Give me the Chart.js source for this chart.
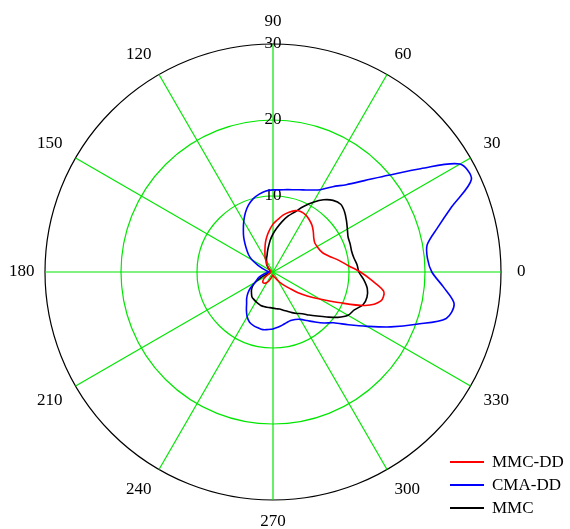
<!DOCTYPE html>
<html>
<head>
<meta charset="utf-8">
<title>Polar plot</title>
<script src="https://cdn.jsdelivr.net/npm/chart.js@4/dist/chart.umd.min.js"></script>
<style>
  html, body { margin: 0; padding: 0; background: #fff; }
  #wrap { position: relative; width: 570px; height: 529px; }
  #legend { position: absolute; left: 450px; top: 451px; font: 17px "Liberation Serif", "Times New Roman", serif; color: #000; }
  .row { display: flex; align-items: center; height: 22.7px; }
  .swatch { width: 34px; height: 2px; margin-right: 8px; }
</style>
</head>
<body>
<div id="wrap">
  <canvas id="polarChart" width="570" height="529"></canvas>
  <div id="legend"></div>
</div>
<script>
// angle (degrees) of each sample, counter-clockwise from the right
var angleDeg = [0, 5, 10, 15, 20, 25, 30, 35, 40, 45, 50, 55, 60, 65, 70, 75, 80, 85,
  90, 95, 100, 105, 110, 115, 120, 125, 130, 135, 140, 145, 150, 155, 160, 165, 170, 175,
  180, 185, 190, 195, 200, 205, 210, 215, 220, 225, 230, 235, 240, 245, 250, 255, 260, 265,
  270, 275, 280, 285, 290, 295, 300, 305, 310, 315, 320, 325, 330, 335, 340, 345, 350, 355];

var seriesNames = ['MMC-DD', 'CMA-DD', 'MMC'];

var mmcDD = [11.5, 9.9, 8.8, 7.8, 7.1, 6.8, 6.7, 6.7, 7.0, 7.5, 8.0, 8.35, 8.65, 8.75, 8.6, 8.15, 7.6, 6.9,
  6.3, 5.5, 4.7, 3.9, 3.1, 2.5, 2.0, 1.5, 1.2, 0.9, 0.7, 0.5, 0.4, 0.3, 0.3, 0.3, 0.3, 0.3,
  0.3, 0.3, 0.3, 0.4, 0.4, 0.6, 1.0, 1.4, 1.7, 1.9, 1.9, 1.8, 1.6, 1.3, 1.0, 0.7, 0.5, 0.4,
  0.4, 0.5, 0.6, 0.7, 0.8, 1.0, 1.3, 1.8, 2.3, 3.0, 4.2, 5.5, 7.1, 9.5, 12.9, 14.7, 14.8, 13.1];

var cmaDD = [20.9, 20.4, 20.6, 22.4, 25.0, 28.8, 28.4, 23.7, 19.8, 17.0, 15.0, 13.7, 12.5, 11.9, 11.5, 11.2, 11.0, 10.85,
  10.8, 10.7, 10.4, 10.0, 9.4, 8.6, 7.7, 6.8, 6.0, 5.2, 4.5, 3.9, 3.2, 2.3, 1.6, 1.1, 0.8, 0.6,
  0.5, 0.7, 1.0, 1.4, 1.9, 2.3, 2.7, 3.6, 4.3, 4.9, 5.4, 6.1, 6.8, 7.3, 7.5, 7.6, 7.7, 7.6,
  7.5, 7.3, 7.1, 6.9, 6.8, 6.9, 7.2, 7.8, 8.6, 9.5, 10.4, 12.1, 14.3, 17.1, 20.1, 23.6, 24.2, 22.5];

var mmc = [11.3, 11.1, 10.8, 10.7, 10.8, 10.9, 11.3, 11.8, 12.3, 12.6, 12.3, 11.6, 10.6, 9.5, 8.4, 7.6, 6.7, 5.8,
  5.0, 4.2, 3.4, 2.8, 2.3, 2.0, 1.7, 1.5, 1.3, 1.0, 0.8, 0.6, 0.5, 0.4, 0.4, 0.4, 0.4, 0.4,
  0.4, 0.4, 0.6, 0.8, 1.0, 1.8, 2.7, 3.3, 3.7, 4.0, 4.3, 4.4, 4.5, 4.6, 4.7, 4.7, 4.7, 4.7,
  4.75, 4.85, 4.95, 5.2, 5.5, 5.9, 6.3, 6.7, 7.4, 8.2, 9.2, 10.4, 11.4, 11.8, 12.6, 12.8, 12.6, 12.0];

var seriesColors = ['#ff0000', '#0000ff', '#000000'];
var radialTicks = [10, 20, 30];
var gridGreen = '#00e600';
var serifFont = { family: '"Liberation Serif", "Times New Roman", serif', size: 17, lineHeight: '14px' };

// radar spokes run clockwise from the top, so reorder: 90, 85, ..., 0, 355, ..., 95
var order = [];
for (var i = 0; i < angleDeg.length; i++) {
  var a = (90 - angleDeg[i] + 360) % 360;
  order.push(angleDeg.indexOf(a));
}
var labels = order.map(function(k) { return String(angleDeg[k]); });
function reorder(arr) { return order.map(function(k) { return arr[k]; }); }

var allSeries = [mmcDD, cmaDD, mmc];
var datasets = allSeries.map(function(s, idx) {
  return {
    label: seriesNames[idx],
    data: reorder(s),
    borderColor: seriesColors[idx],
    backgroundColor: seriesColors[idx],
    borderWidth: 1.6,
    pointRadius: 0,
    pointHoverRadius: 0,
    fill: false,
    tension: 0.3
  };
});

var ctx = document.getElementById('polarChart').getContext('2d');
var polarChart = new Chart(ctx, {
  type: 'radar',
  data: { labels: labels, datasets: datasets },
  options: {
    responsive: false,
    devicePixelRatio: 1,
    animation: false,
    layout: { padding: { top: 15, bottom: 0, left: 0, right: 35.5 } },
    plugins: { legend: { display: false }, tooltip: { enabled: false } },
    scales: {
      r: {
        min: 0,
        max: radialTicks[radialTicks.length - 1],
        ticks: {
          stepSize: 10,
          showLabelBackdrop: false,
          // no backdrop is drawn, so don't let it reserve room around the scale
          backdropPadding: -8.5,
          color: '#000',
          font: serifFont
        },
        grid: {
          circular: true,
          color: function(c) { return c.tick && c.tick.value === 30 ? '#000' : gridGreen; },
          lineWidth: 1.2
        },
        angleLines: {
          color: gridGreen,
          lineWidth: function(c) { return Number(labels[c.index]) % 30 === 0 ? 1.2 : 0; }
        },
        pointLabels: {
          color: '#000',
          font: serifFont,
          padding: function(c) {
            var lab = labels[c.index];
            if (lab === '180') return 10.5;
            if (lab === '0') return 16;
            return 15;
          },
          callback: function(label) { return Number(label) % 30 === 0 ? label : ''; }
        }
      }
    }
  }
});

// legend in the lower right corner
var legend = document.getElementById('legend');
seriesNames.forEach(function(name, idx) {
  var row = document.createElement('div');
  row.className = 'row';
  var sw = document.createElement('span');
  sw.className = 'swatch';
  sw.style.background = seriesColors[idx];
  var tx = document.createElement('span');
  tx.textContent = name;
  row.appendChild(sw);
  row.appendChild(tx);
  legend.appendChild(row);
});
</script>
</body>
</html>
